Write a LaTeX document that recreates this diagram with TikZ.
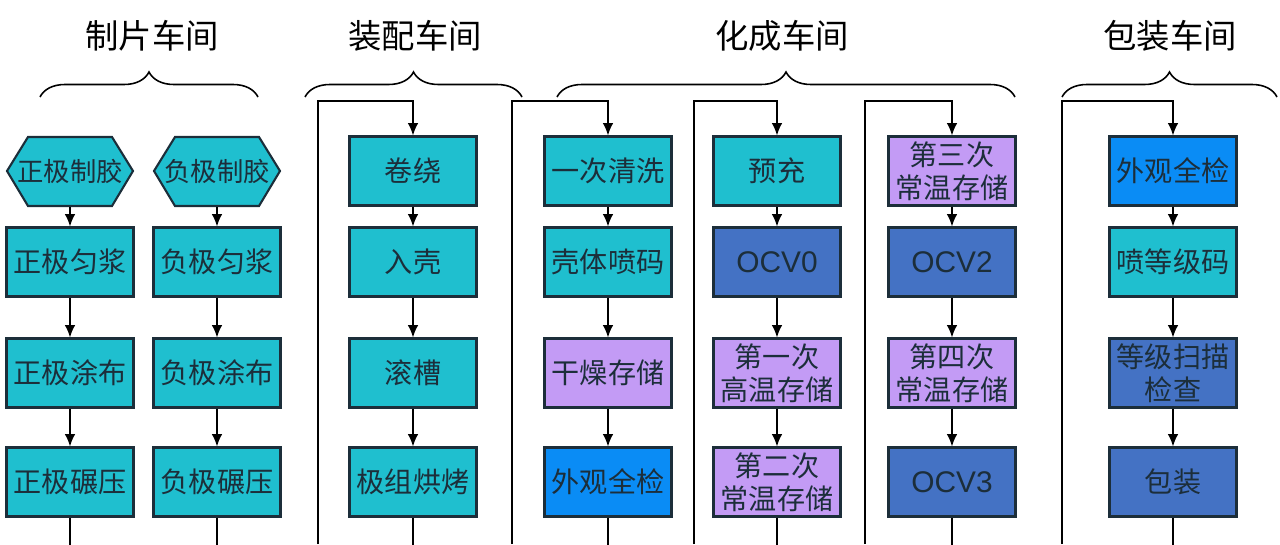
\documentclass[tikz,border=0pt]{standalone}
\usepackage{fontspec}
\setmainfont{Liberation Sans}
\newfontfamily\cjk{Noto Sans CJK SC}
\usetikzlibrary{decorations.pathreplacing,arrows.meta}
\definecolor{teal1}{HTML}{1FBFCF}
\definecolor{lav}{HTML}{C39BF5}
\definecolor{sky}{HTML}{0A8CF5}
\definecolor{navy}{HTML}{4472C4}
\definecolor{ink}{HTML}{1C2E3A}
\tikzset{
  box/.style={draw=ink,line width=1.2pt,minimum width=2.54cm,minimum height=1.38cm,
    inner sep=0pt,align=center,font=\cjk\fontsize{16}{19}\selectfont,text=ink},
  hexa/.style={box,draw=none,font=\cjk\fontsize{15}{18}\selectfont},
  hexline/.style={draw=ink,line width=1.2pt,fill=teal1},
  arr/.style={-{Latex[length=7pt,width=6pt]},line width=0.9pt},
  bar/.style={line width=0.9pt},
  curly/.style={decorate,decoration={brace,amplitude=0.5cm},line width=0.9pt},
  title/.style={font=\cjk\fontsize{19}{22}\selectfont}
}
\begin{document}
\begin{tikzpicture}[x=0.02cm,y=-0.02cm]
        \useasboundingbox (0,0) rectangle (1280,544);

        % Section titles and braces
        \node[title] (tA) at (152,36) {制片车间};
        \node[title] (tB) at (415,36) {装配车间};
        \node[title] (tC) at (782,36) {化成车间};
        \node[title] (tD) at (1170,36) {包装车间};
        \draw[curly] (40,97) -- (258,97);
        \draw[curly] (305,97) -- (522,97);
        \draw[curly] (557,97) -- (1015,97);
        \draw[curly] (1062,97) -- (1277,97);

        % Electrode workshop
        \foreach \x in {70,217}{
          \draw[hexline] (\x-63,171) -- (\x-42,137) -- (\x+42,137) -- (\x+63,171)
            -- (\x+42,206) -- (\x-42,206) -- cycle;
        }
        \node[hexa] (zp1) at (70,171) {正极制胶};
        \node[box,fill=teal1] (zp2) at (70,262) {正极匀浆};
        \node[box,fill=teal1] (zp3) at (70,373) {正极涂布};
        \node[box,fill=teal1] (zp4) at (70,482) {正极碾压};
        \node[hexa] (fp1) at (217,171) {负极制胶};
        \node[box,fill=teal1] (fp2) at (217,262) {负极匀浆};
        \node[box,fill=teal1] (fp3) at (217,373) {负极涂布};
        \node[box,fill=teal1] (fp4) at (217,482) {负极碾压};

        % Assembly workshop
        \node[box,fill=teal1] (zz1) at (413,171) {卷绕};
        \node[box,fill=teal1] (zz2) at (413,262) {入壳};
        \node[box,fill=teal1] (zz3) at (413,373) {滚槽};
        \node[box,fill=teal1] (zz4) at (413,482) {极组烘烤};

        % Formation workshop
        \node[box,fill=teal1] (hc1) at (608,171) {一次清洗};
        \node[box,fill=teal1] (hc2) at (608,262) {壳体喷码};
        \node[box,fill=lav] (hc3) at (608,373) {干燥存储};
        \node[box,fill=sky] (hc4) at (608,482) {外观全检};
        \node[box,fill=teal1] (hd1) at (777,171) {预充};
        \node[box,fill=navy,font=\fontsize{17}{20}\selectfont] (hd2) at (777,262) {OCV0};
        \node[box,fill=lav] (hd3) at (777,373) {第一次\\高温存储};
        \node[box,fill=lav] (hd4) at (777,482) {第二次\\常温存储};
        \node[box,fill=lav] (he1) at (952,171) {第三次\\常温存储};
        \node[box,fill=navy,font=\fontsize{17}{20}\selectfont] (he2) at (952,262) {OCV2};
        \node[box,fill=lav] (he3) at (952,373) {第四次\\常温存储};
        \node[box,fill=navy,font=\fontsize{17}{20}\selectfont] (he4) at (952,482) {OCV3};

        % Packing workshop
        \node[box,fill=sky] (bz1) at (1173,171) {外观全检};
        \node[box,fill=teal1] (bz2) at (1173,262) {喷等级码};
        \node[box,fill=navy] (bz3) at (1173,373) {等级扫描\\检查};
        \node[box,fill=navy] (bz4) at (1173,482) {包装};

        % Arrows inside the columns
        \foreach \c in {zp,fp,zz,hc,hd,he,bz}{
          \draw[arr] (\c1) -- (\c2);
          \draw[arr] (\c2) -- (\c3);
          \draw[arr] (\c3) -- (\c4);
          \draw[bar] (\c4.south) -- ++(0,30);
        }

        % Feed lines from the previous column
        \foreach \x/\n in {318/zz1,512/hc1,694/hd1,865/he1,1062/bz1}{
          \coordinate (lo) at (\x,544);
          \coordinate (hi) at (\x,101);
          \draw[arr] (lo) -- (hi) -| (\n.north);
        }
    \end{tikzpicture}
\end{document}
